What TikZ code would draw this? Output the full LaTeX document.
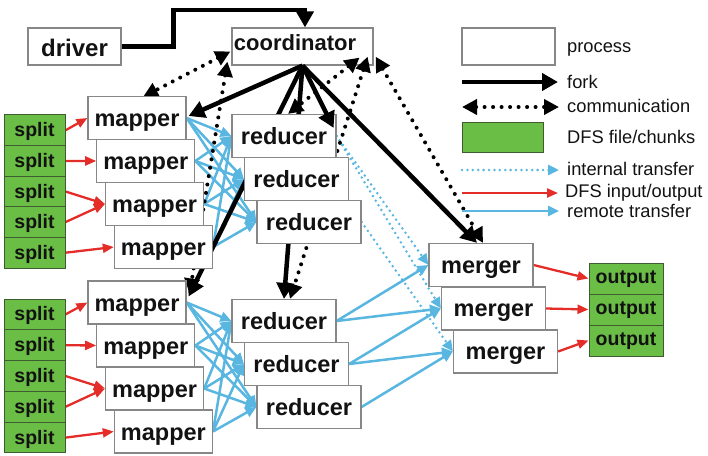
\documentclass[tikz,border=0pt]{standalone}
\usepackage{fontspec}
\setmainfont{Liberation Sans}
\usetikzlibrary{arrows.meta,calc}
\pgfdeclarelayer{bg}
\pgfsetlayers{bg,main}
\definecolor{boxgray}{RGB}{135,135,135}
\definecolor{dfsgreen}{RGB}{106,189,69}
\definecolor{greenedge}{RGB}{62,92,48}
\definecolor{rblue}{RGB}{88,182,224}
\definecolor{dred}{RGB}{228,45,40}
\definecolor{txt}{RGB}{18,18,18}
\tikzset{
 proc/.style={draw=boxgray, line width=1.2pt, fill=white, minimum width=98pt, minimum height=43pt, inner sep=0pt, text height=17pt, text depth=0pt, font=\fontsize{23.5pt}{24pt}\selectfont\bfseries, text=txt},
 redbox/.style={proc, minimum width=104pt},
 dfs/.style={draw=greenedge, line width=1pt, fill=dfsgreen, minimum width=61pt, minimum height=30.7pt, inner sep=0pt, text height=13pt, text depth=0pt, font=\fontsize{19.5pt}{20pt}\selectfont\bfseries, text=txt},
 legtext/.style={anchor=base west, inner sep=0pt, font=\fontsize{18.3pt}{19pt}\selectfont, text=txt},
 forkarrow/.style={draw=black, line width=4.5pt, -{Triangle[length=16pt,width=17pt]}},
 comm/.style={draw=black, line width=4pt, dash pattern=on 0pt off 8.5pt, line cap=round, {Triangle[length=15pt,width=15pt]}-{Triangle[length=15pt,width=15pt]}},
 remote/.style={draw=rblue, line width=2.5pt, -{Triangle[length=11pt,width=10pt]}},
 internal/.style={draw=rblue, line width=2.8pt, dash pattern=on 0pt off 5.4pt, line cap=round, -{Triangle[length=11pt,width=10pt]}},
 dfsio/.style={draw=dred, line width=2.3pt, -{Triangle[length=11pt,width=9pt]}},
}
\begin{document}
\begin{tikzpicture}[x=1pt,y=-1pt]
\useasboundingbox (0,0) rectangle (708,455);
\begin{pgfonlayer}{bg}
\node[proc, minimum width=141pt, minimum height=37pt, text height=8pt, font=\fontsize{22pt}{22pt}\selectfont\bfseries] (coord) at (302.5,46.5) {coordinator\hspace*{15pt}};
\end{pgfonlayer}
\node[proc, minimum width=93pt, minimum height=37pt, text height=20pt, font=\fontsize{24pt}{24pt}\selectfont\bfseries] (driver) at (74.5,46.5) {driver};
% splits
\node[dfs] (s1) at (34.5,130.3) {split};
\node[dfs] (s2) at (34.5,160.9) {split};
\node[dfs] (s3) at (34.5,191.5) {split};
\node[dfs] (s4) at (34.5,222.1) {split};
\node[dfs] (s5) at (34.5,252.7) {split};
\node[dfs] (s6) at (34.5,314.4) {split};
\node[dfs] (s7) at (34.5,345.2) {split};
\node[dfs] (s8) at (34.5,376.0) {split};
\node[dfs] (s9) at (34.5,406.8) {split};
\node[dfs] (s10) at (34.5,437.6) {split};
% mappers
\node[proc] (m1) at (137,118) {mapper};
\node[proc] (m2) at (145.8,161) {mapper};
\node[proc] (m3) at (154.6,204) {mapper};
\node[proc] (m4) at (163.4,247) {mapper};
\node[proc] (m5) at (137,302.5) {mapper};
\node[proc] (m6) at (145.8,345.5) {mapper};
\node[proc] (m7) at (154.6,388.5) {mapper};
\node[proc] (m8) at (163.4,431.5) {mapper};
% reducers
\node[redbox] (r1) at (284,136) {reducer};
\node[redbox] (r2) at (296.5,179) {reducer};
\node[redbox] (r3) at (309,222) {reducer};
\node[redbox] (r4) at (284,321) {reducer};
\node[redbox] (r5) at (296.5,364) {reducer};
\node[redbox] (r6) at (309,407) {reducer};
% mergers
\node[redbox, text height=16pt] (g1) at (481,265) {merger};
\node[redbox, text height=16pt] (g2) at (493.5,308.5) {merger};
\node[redbox, text height=16pt] (g3) at (505.5,351.5) {merger};
% outputs
\node[dfs, minimum width=74pt, minimum height=31pt, text height=9.5pt] (o1) at (626,278.5) {output};
\node[dfs, minimum width=74pt, minimum height=31pt, text height=9.5pt] (o2) at (626,309.5) {output};
\node[dfs, minimum width=74pt, minimum height=31pt, text height=9.5pt] (o3) at (626,340.5) {output};
% legend
\node[proc, minimum width=93pt, minimum height=37pt] (lbox) at (508.5,46.5) {};
\node[dfs, minimum width=81pt, minimum height=30pt] (lgreen) at (502.5,137) {};
\node[legtext] (lp) at (567,52) {process};
\node[legtext] (lf) at (567,88) {fork};
\node[legtext] (lc) at (567,112.5) {communication};
\node[legtext] (ld) at (567,143) {DFS file/chunks};
\node[legtext] (li) at (567,175.5) {internal transfer};
\node[legtext] (lo) at (565,197.5) {DFS input/output};
\node[legtext] (lr) at (567,217) {remote transfer};
\coordinate (lf0) at (462,82);   \coordinate (lf1) at (558,82);
\coordinate (lc0) at (462,107);  \coordinate (lc1) at (559,107);
\coordinate (li0) at (462,170);  \coordinate (li1) at (559,170);
\coordinate (lo0) at (462,193);  \coordinate (lo1) at (558,193);
\coordinate (lr0) at (462,211);  \coordinate (lr1) at (559,211);
\draw[forkarrow] (lf0) -- (lf1);
\draw[comm] (lc0) -- (lc1);
\draw[internal] (li0) -- (li1);
\draw[dfsio] (lo0) -- (lo1);
\draw[remote] (lr0) -- (lr1);
\begin{pgfonlayer}{bg}
 % remote transfers mapper -> reducer
 \foreach \m in {m1,m2,m3,m4}{\foreach \r in {r1,r2,r3}{\draw[remote] (\m.east) -- (\r.west);}}
 \foreach \m in {m5,m6,m7,m8}{\foreach \r in {r4,r5,r6}{\draw[remote] (\m.east) -- (\r.west);}}
 % reducer -> merger
 \draw[remote] (r4.east) -- (g1.west);
 \draw[remote] (r4.east) -- (g2.west);
 \draw[remote] (r5.east) -- (g2.west);
 \draw[remote] (r5.east) -- (g3.west);
 \draw[remote] (r6.east) -- (g3.west);
 % internal
 \draw[internal] (r1.east) -- (g1.west);
 \draw[internal] (r1.east) -- (g2.west);
 \draw[internal] (r3.east) -- (g3.west);
 % DFS input
 \draw[dfsio] (s1.east) -- (m1.west);
 \draw[dfsio] (s2.east) -- (m2.west);
 \draw[dfsio] (s3.east) -- (m3.west);
 \draw[dfsio] (s4.east) -- (m3.west);
 \draw[dfsio] (s5.east) -- (m4.west);
 \draw[dfsio] (s6.east) -- (m5.west);
 \draw[dfsio] (s7.east) -- (m6.west);
 \draw[dfsio] (s8.east) -- (m7.west);
 \draw[dfsio] (s9.east) -- (m7.west);
 \draw[dfsio] (s10.east) -- (m8.west);
 % DFS output
 \draw[dfsio] (g1.east) -- (o1.west);
 \draw[dfsio] (g2.east) -- (o2.west);
 \draw[dfsio] (g3.east) -- (o3.west);
 % forks
 \draw[forkarrow] (driver.east) -- ++(52,0) -- ++(0,-36.5) -| ([xshift=2.5pt]coord.north);
 \draw[forkarrow] (coord.south) -- ([xshift=2pt,yshift=2pt]m1.east);
 \draw[forkarrow] (coord.south) -- ([xshift=2pt,yshift=6pt]m5.east);
 \draw[forkarrow] (coord.south) -- (r4.north);
 \draw[forkarrow] (coord.south) -- ([xshift=-4pt]g1.north);
 % communication
 \draw[comm] ([xshift=-1pt,yshift=-5pt]coord.west) -- ([xshift=6pt,yshift=-1pt]m1.north);
 \draw[comm] ([xshift=-4pt,yshift=4pt]coord.south west) -- ([xshift=3pt,yshift=9pt]m5.east);
 \draw[comm] ([xshift=-14pt,yshift=8pt]coord.south east) -- ([xshift=4pt]r1.north);
 \draw[comm] ([xshift=-6pt,yshift=9pt]coord.south east) -- ([xshift=6pt]r4.north);
 \draw[comm] ([xshift=2pt,yshift=9pt]coord.south east) -- ([xshift=2pt]g1.north);
\end{pgfonlayer}
\draw[forkarrow] (coord.south) -- ([xshift=-3pt,yshift=-14pt]r1.north east);
\end{tikzpicture}
\end{document}
